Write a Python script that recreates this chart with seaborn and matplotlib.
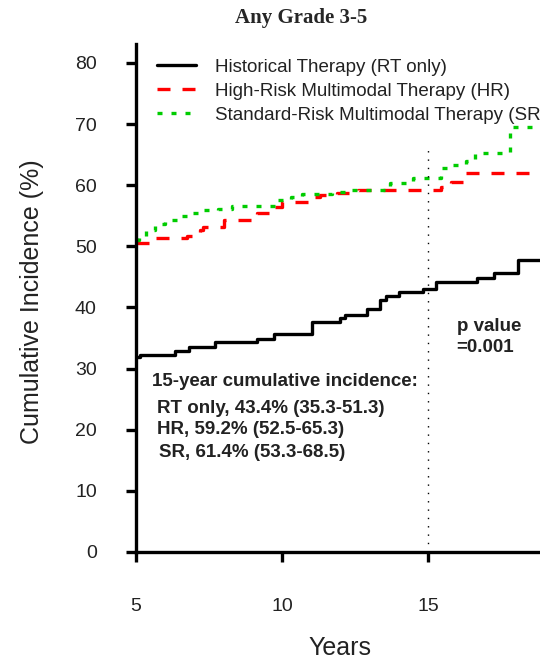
import matplotlib
matplotlib.use('Agg')
import matplotlib.pyplot as plt
from matplotlib.lines import Line2D
import seaborn as sns

# step curves (years, cumulative incidence %)
rt_years = [5.0, 5.15, 6.34, 6.83, 7.7, 9.13, 9.73, 11.02, 11.99, 12.16, 12.92, 13.36,
            13.56, 14.02, 14.82, 15.27, 16.69, 17.27, 18.09, 19.0]
rt_inc = [31.9, 32.3, 32.9, 33.6, 34.3, 34.8, 35.6, 37.7, 38.2, 38.8, 39.8, 41.2,
          41.8, 42.6, 43.1, 44.1, 44.9, 45.6, 47.7, 47.7]

hr_years = [5.0, 5.45, 6.75, 7.2, 7.3, 8.0, 9.0, 9.15, 9.6, 10.0, 10.95, 11.3,
            11.9, 12.6, 15.45, 15.8, 16.2, 19.0]
hr_inc = [50.6, 51.3, 51.7, 52.7, 53.2, 54.3, 54.8, 55.4, 56.5, 57.2, 58.1, 58.4,
          58.8, 59.2, 59.7, 60.6, 62.0, 62.0]

sr_years = [5.0, 5.1, 5.35, 5.65, 6.0, 6.45, 6.9, 7.3, 7.8, 8.3, 9.75, 10.3, 10.7,
            11.7, 12.2, 13.7, 14.5, 15.45, 15.8, 16.3, 16.6, 17.8, 19.0]
sr_inc = [51.0, 51.5, 52.6, 53.6, 54.3, 54.9, 55.5, 55.9, 56.1, 56.6, 57.6, 58.0, 58.6,
          58.9, 59.2, 60.3, 61.1, 62.8, 63.3, 64.0, 65.3, 69.5, 69.5]

labels = ['Historical Therapy (RT only)',
          'High-Risk Multimodal Therapy (HR)',
          'Standard-Risk Multimodal Therapy (SR)']
colors = ['black', '#ff0000', '#00cc00']
dash_patterns = [None, (3.9, 3.6), (1.5, 2.7)]

landmark_year = 15
landmark_top = 66.5

summary_lines = ['15-year cumulative incidence:',
                 'RT only, 43.4% (35.3-51.3)',
                 'HR, 59.2% (52.5-65.3)',
                 'SR, 61.4% (53.3-68.5)']
p_text = 'p value\n=0.001'

sns.set_style('ticks')
plt.rcParams['font.family'] = ['Liberation Sans', 'DejaVu Sans']

fig = plt.figure(figsize=(5.4, 6.62), dpi=100)
ax = fig.add_axes([136 / 540, 1 - 552 / 662, 1 - 136 / 540, (552 - 44) / 662])

lw = 2.4
handles = []
for xs, ys, c, d, lab in zip([rt_years, hr_years, sr_years], [rt_inc, hr_inc, sr_inc],
                             colors, dash_patterns, labels):
    sns.lineplot(x=xs, y=ys, ax=ax, drawstyle='steps-post', color=c, linewidth=lw,
                 estimator=None, sort=False)
    line = ax.lines[-1]
    h = Line2D([], [], color=c, linewidth=lw)
    if d:
        line.set_dashes(d)
        h.set_dashes(d)
    handles.append(h)

ax.plot([landmark_year, landmark_year], [0, landmark_top], color='black',
        linewidth=1.0, dashes=(1, 5))

ax.set_xticks([5, 10, 15])
ax.set_yticks(range(0, 81, 10))
ax.set_xlim(5, 5 + 404 / 29.2)
ax.set_ylim(0, 83.1)
sns.despine(ax=ax)
for sp in ['left', 'bottom']:
    ax.spines[sp].set_linewidth(2.4)
    ax.spines[sp].set_color('black')
ax.tick_params(axis='both', length=7.2, width=2.4, color='black', labelsize=14,
               labelcolor='#222222')
ax.tick_params(axis='y', pad=21)
ax.tick_params(axis='x', pad=26)

ax.set_xlabel('Years', fontsize=18, color='#222222')
ax.xaxis.set_label_coords(0.505, -0.165)
ax.set_ylabel('Cumulative Incidence (%)', fontsize=18, color='#222222')
ax.yaxis.set_label_coords(-0.228, 0.492)

fig.text(301 / 540, 1 - 18 / 662, 'Any Grade 3-5', ha='center', va='center',
         fontsize=15, fontweight='bold', family=['Liberation Serif', 'DejaVu Serif'])

ax.legend(handles=handles, labels=labels, loc='upper left',
          bbox_to_anchor=(0.051, 0.971), frameon=False, fontsize=13.5,
          handlelength=2.1, handletextpad=1.0, labelspacing=0.36,
          borderpad=0, borderaxespad=0, labelcolor='#222222')

# text block, positions in axes pixels from the left spine / x axis
summary_x = [151.7, 157.3, 157.3, 159.3]
summary_y = [381.7, 408.3, 430, 452.3]
for t, px, py in zip(summary_lines, summary_x, summary_y):
    ax.text((px - 136) / 404, (552 - py) / 508, t, transform=ax.transAxes,
            ha='left', va='center', fontsize=13.5, fontweight='bold', color='#222222')
ax.text((456.7 - 136) / 404, (552 - 337) / 508, p_text, transform=ax.transAxes,
        ha='left', va='center', fontsize=13.5, fontweight='bold', color='#222222',
        linespacing=1.3)

fig.savefig('out.png', dpi=100)
